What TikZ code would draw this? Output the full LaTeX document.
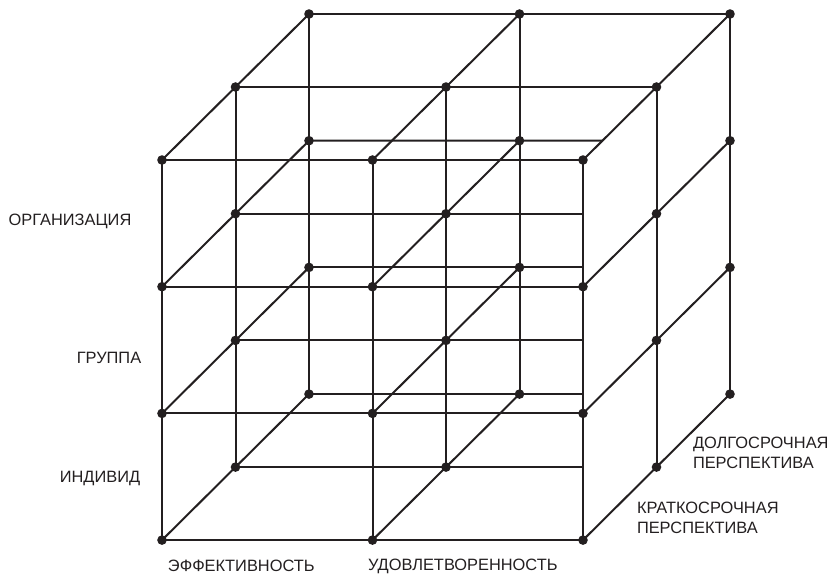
\documentclass[tikz,border=0pt]{standalone}
\usepackage{fontspec}
\setmainfont{Liberation Sans}
\definecolor{ink}{HTML}{231F20}

\begin{document}
\begin{tikzpicture}[x=0.5pt,y=-0.5pt,line width=1pt,ink,
  lbl/.style={inner sep=0pt,font=\fontsize{8.2}{10}\selectfont,align=left}]
\useasboundingbox (0,0) rectangle (832,574);
% lattice points: column i, row j, depth k
\foreach \i in {0,1,2}
  \foreach \j in {0,...,3}
    \foreach \k in {0,1,2}
      \coordinate (p\i\j\k) at ({162+210.5*\i+73.5*\k},{160+126.7*\j-73*\k});
% rows
\foreach \j in {0,...,3} \draw (p0\j0) -- (p2\j0);
\draw (p001) -- (p201);
\draw (p002) -- (p202);
\foreach \j in {1,2,3} \draw (p0\j1) -- (p0\j1 -| p200);
\foreach \j in {2,3} \draw (p0\j2) -- (p0\j2 -| p200);
\draw (p012) -- (intersection of p012--p212 and p200--p202);
% columns and depth lines
\foreach \i in {0,1,2}{
  \foreach \k in {0,1,2} \draw (p\i0\k) -- (p\i3\k);
  \foreach \j in {0,...,3} \draw (p\i\j0) -- (p\i\j2);
}
% dots
\foreach \i in {0,1,2}
  \foreach \j in {0,...,3}
    \foreach \k in {0,1,2}
      \fill (p\i\j\k) circle (2.4pt);
% labels
\node[lbl] (org) at (70,221) {ОРГАНИЗАЦИЯ};
\node[lbl] (grp) at (109,358) {ГРУППА};
\node[lbl] (ind) at (100,478) {ИНДИВИД};
\node[lbl,anchor=west] (eff) at (167,566) {ЭФФЕКТИВНОСТЬ};
\node[lbl,anchor=west] (sat) at (367,566) {УДОВЛЕТВОРЕННОСТЬ};
\node[lbl,anchor=west] (long) at (692,453) {ДОЛГОСРОЧНАЯ\\ПЕРСПЕКТИВА};
\node[lbl,anchor=west] (short) at (636,518) {КРАТКОСРОЧНАЯ\\ПЕРСПЕКТИВА};
\end{tikzpicture}
\end{document}
